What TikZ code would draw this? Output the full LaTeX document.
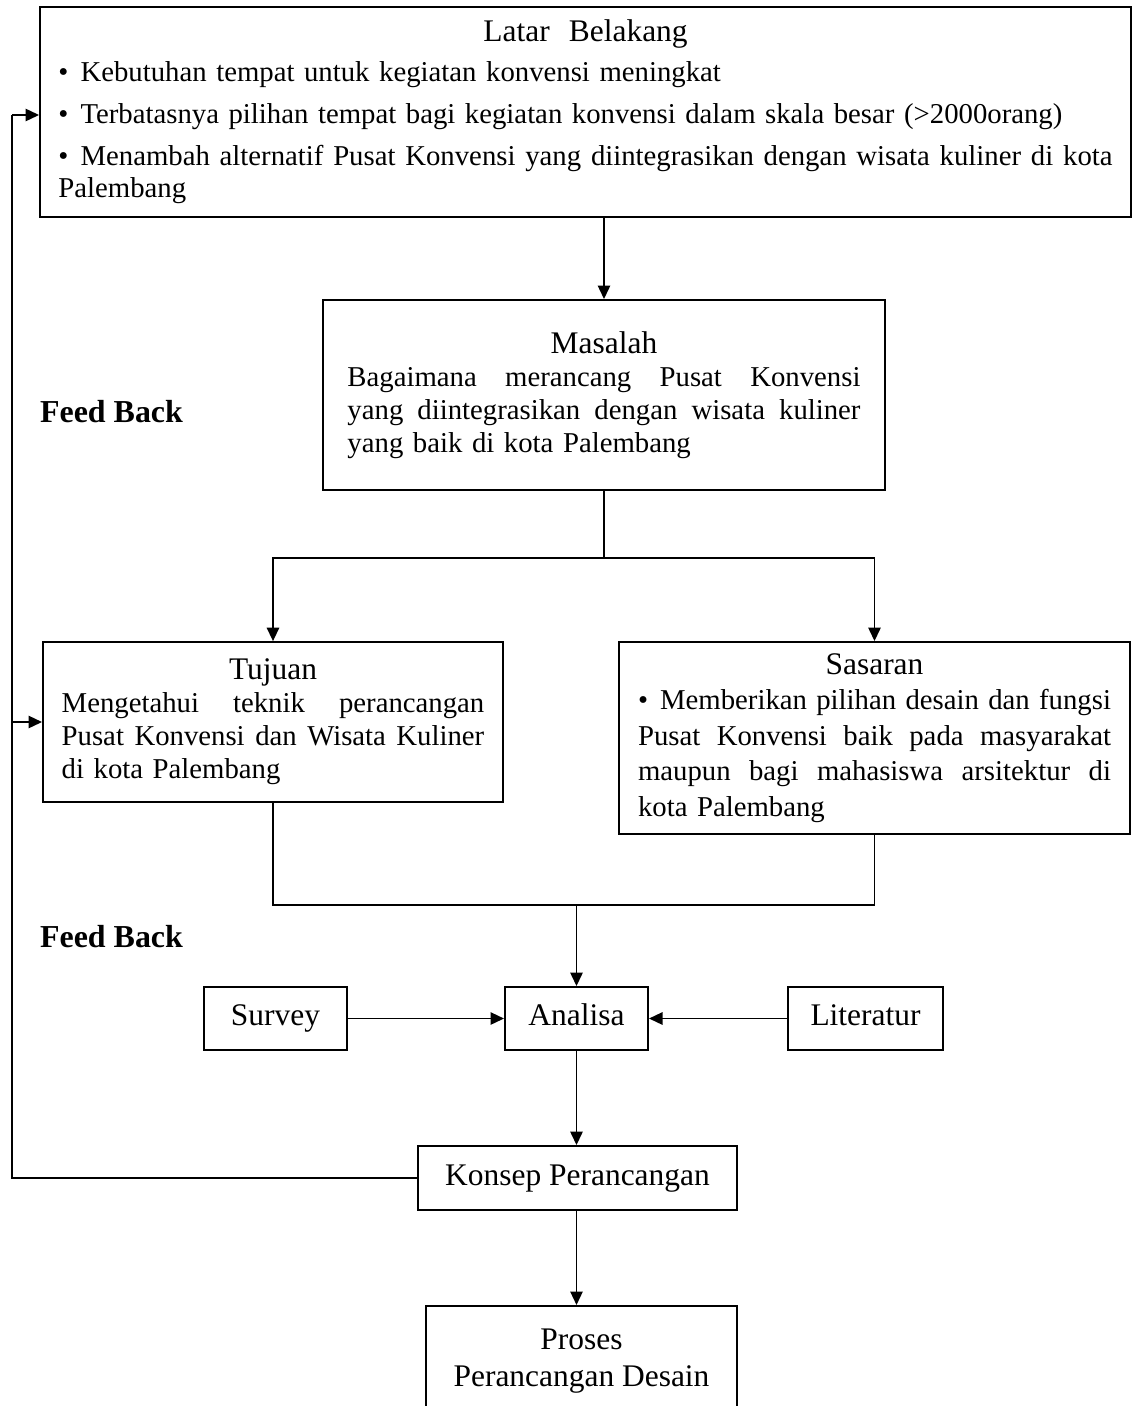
\documentclass[tikz,border=0pt]{standalone}
\usepackage{fontspec}
\setmainfont{Liberation Serif}
\usetikzlibrary{arrows.meta}

\newcommand{\jline}[1]{{\spaceskip=0.25em plus 0.5em minus 0.08em\makebox[\linewidth][s]{#1}}}
\newcommand{\ctrline}[1]{\makebox[\linewidth][c]{\fontsize{12.8}{13.4}\selectfont #1}}
\newcommand{\bul}{\makebox[9pt][l]{\textbullet}}

\begin{document}
\begin{tikzpicture}[
	x=0.407pt, y=-0.407pt,
	box/.style={
		draw, line width=0.8pt, inner sep=0pt, align=left,
		font=\fontsize{11.7}{13.4}\selectfont
	},
	small/.style={
		box, font=\fontsize{12.8}{14.5}\selectfont,
		text height=8.8pt, text depth=2.8pt, minimum height=25.6pt
	},
	flow/.style={
		line width=0.8pt, -{Triangle[length=5.5pt, width=5pt]}
	},
	wire/.style={
		line width=0.8pt
	},
	label/.style={
		font=\fontsize{13}{15}\selectfont\bfseries
	}
]
	\useasboundingbox (0, 0) rectangle (1136, 1406);
	% Upper boxes
	\node[box, text width=429pt, minimum width=444pt, minimum height=85.5pt] (latar) at (585.5, 112) {
		\ctrline{Latar \ Belakang}\\[3pt]
		\bul Kebutuhan tempat untuk kegiatan konvensi meningkat\\[3.5pt]
		\bul Terbatasnya pilihan tempat bagi kegiatan konvensi dalam skala besar (>2000orang)\\[3.5pt]
		\jline{\bul Menambah alternatif Pusat Konvensi yang diintegrasikan dengan wisata kuliner di kota}\\
		Palembang};
	\node[box, text width=208.8pt, minimum width=228.7pt, minimum height=77.3pt] (masalah) at (604, 395) {
		\ctrline{Masalah}\\
		\jline{Bagaimana merancang Pusat Konvensi}\\
		\jline{yang diintegrasikan dengan wisata kuliner}\\
		yang baik di kota Palembang};
	\node[box, text width=172pt, minimum width=187.2pt, minimum height=65pt] (tujuan) at (273, 722) {
		\ctrline{Tujuan}\\
		\jline{Mengetahui teknik perancangan}\\
		\jline{Pusat Konvensi dan Wisata Kuliner}\\
		di kota Palembang};
	\node[box, text width=192.5pt, minimum width=208pt, minimum height=78.1pt] (sasaran) at (874.5, 738) {
		\ctrline{Sasaran}\\[1pt]
		\jline{\bul Memberikan pilihan desain dan fungsi}\\[1pt]
		\jline{Pusat Konvensi baik pada masyarakat}\\[1pt]
		\jline{maupun bagi mahasiswa arsitektur di}\\[1pt]
		kota Palembang};

	% Lower boxes
	\node[small, minimum width=58.2pt] (survey) at (275.5, 1018.5) {Survey};
	\node[small, minimum width=58.2pt] (analisa) at (576.5, 1018.5) {Analisa};
	\node[small, minimum width=63.1pt] (literatur) at (865.5, 1018.5) {Literatur};
	\node[small, minimum width=129.8pt, minimum height=26pt] (konsep) at (577.5, 1178) {Konsep Perancangan};
	\node[box, font=\fontsize{12.8}{15}\selectfont, align=center, anchor=north,
		minimum width=126.6pt, minimum height=45pt] (proses) at (581.5, 1305) {
		Proses\\Perancangan Desain};

	\node[label] (fb1) at (111.5, 412) {Feed Back};
	\node[label] (fb2) at (111.5, 937) {Feed Back};

	% Connectors
	\coordinate (split) at (604, 558);
	\coordinate (join) at (576.5, 905);
	\coordinate (fbtop) at (12, 115);
	\coordinate (fbbot) at (12, 1178);
	\draw[flow] (latar.south -| masalah.north) -- (masalah.north);
	\draw[wire] (masalah.south) -- (split);
	\draw[flow] (split) -| (tujuan.north);
	\draw[flow] (split) -| (sasaran.north);
	\draw[wire] (tujuan.south) |- (join) -| (sasaran.south);
	\draw[flow] (join) -- (analisa.north);
	\draw[flow] (survey) -- (analisa);
	\draw[flow] (literatur) -- (analisa);
	\draw[flow] (analisa.south) -- (analisa.south |- konsep.north);
	\draw[flow] (analisa.south |- konsep.south) -- (analisa.south |- proses.north);
	% Feed back loop
	\draw[wire] (konsep.west) -- (fbbot) -- (fbtop);
	\draw[flow] (fbtop) -- (fbtop -| latar.west);
	\draw[flow] (fbbot |- tujuan.west) -- (tujuan.west);
\end{tikzpicture}
\end{document}
